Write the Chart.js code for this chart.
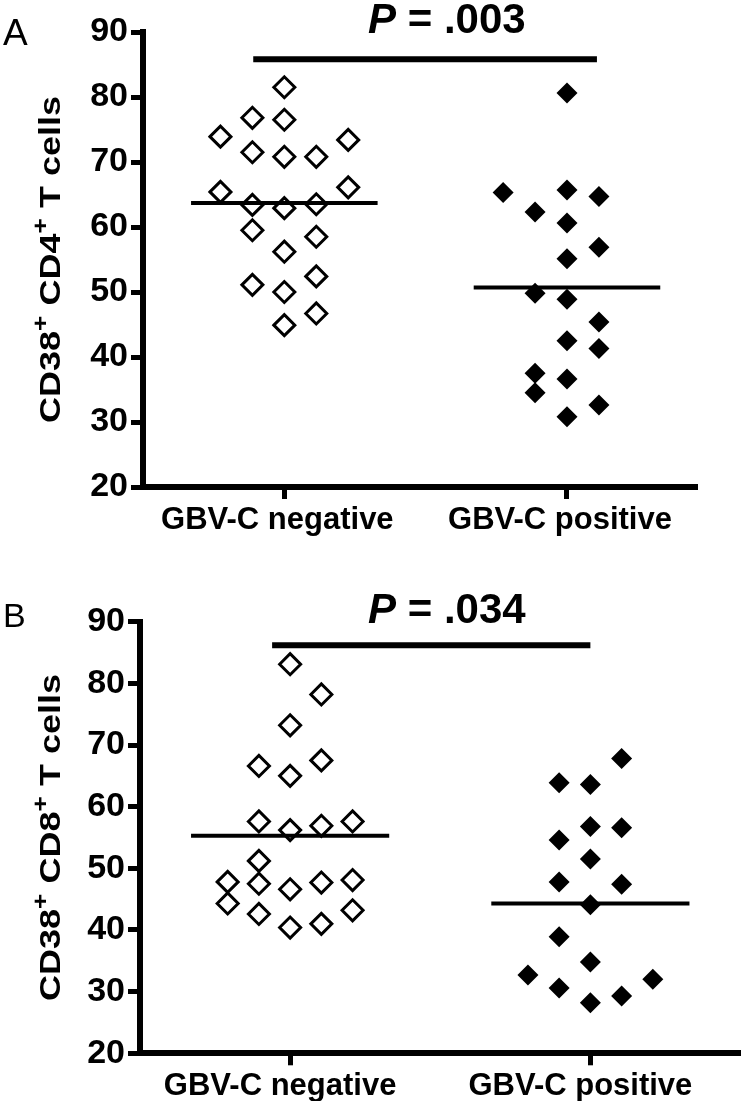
<!DOCTYPE html>
<html>
<head>
<meta charset="utf-8">
<title>CD38+ T cells by GBV-C status</title>
<script src="https://cdn.jsdelivr.net/npm/chart.js@4.4.1/dist/chart.umd.min.js"></script>
<style>
  html, body { margin: 0; padding: 0; background: #fff; }
  #wrap { position: relative; width: 754px; height: 1101px; }
  canvas { position: absolute; left: 0; }
  #chartA { top: 0; }
  #chartB { top: 545px; }
</style>
</head>
<body>
<div id="wrap">
  <canvas id="chartA" width="754" height="545"></canvas>
  <canvas id="chartB" width="754" height="556"></canvas>
</div>
<script>
// groups along the x axis and the y tick values
const categories = ['GBV-C negative', 'GBV-C positive'];
const yTicks = [20, 30, 40, 50, 60, 70, 80, 90];

// Panel A - CD38+ CD4+ T cells
const cd4Negative = [81.5, 76.8, 76.5, 73.9, 73.4, 71.5, 70.8, 70.8, 65.4, 66.1, 63.4, 62.9, 63.5, 59.5, 58.5, 56.2, 52.4, 51.1, 50.0, 46.7, 44.9];
const cd4NegativeLane = [0, -1, 0, -2, 2, -1, 0, 1, -2, 2, -1, 0, 1, -1, 1, 0, 1, -1, 0, 1, 0];
const cd4Positive = [80.6, 65.3, 65.7, 64.7, 62.3, 60.6, 56.9, 55.1, 49.8, 48.9, 45.4, 42.5, 41.3, 37.5, 36.6, 34.5, 32.6, 30.8];
const cd4PositiveLane = [0, -2, 0, 1, -1, 0, 1, 0, -1, 0, 1, 0, 1, -1, 0, -1, 1, 0];
const cd4Means = [63.7, 50.7];

// Panel B - CD38+ CD8+ T cells
const cd8Negative = [83.1, 78.2, 73.2, 66.6, 67.5, 65.0, 57.6, 56.2, 56.9, 57.6, 51.2, 47.8, 47.5, 46.6, 47.7, 48.1, 44.3, 42.6, 43.2, 40.4, 41.0];
const cd8NegativeLane = [0, 1, 0, -1, 1, 0, -1, 0, 1, 2, -1, -2, -1, 0, 1, 2, -2, -1, 2, 0, 1];
const cd8Positive = [67.8, 63.9, 63.6, 56.8, 56.6, 54.6, 51.5, 47.8, 47.4, 44.1, 38.9, 34.8, 32.7, 32.0, 30.6, 29.3, 28.2];
const cd8PositiveLane = [1, -1, 0, 0, 1, -1, 0, -1, 1, 0, -1, 0, -2, 2, -1, 1, 0];
const cd8Means = [55.3, 44.3];

// labels (title parts alternate normal / superscript)
const panelLetters = ['A', 'B'];
const yTitles = [['CD38', '+', ' CD4', '+', ' T cells'], ['CD38', '+', ' CD8', '+', ' T cells']];
const pValues = ['.003', '.034'];

const FONT = "'Liberation Sans', Arial, sans-serif";

function panelText(spec) {
    return {
        id: 'panelText',
        afterDraw(chart) {
            const ctx = chart.ctx;
            const y = chart.scales.y;
            ctx.save();
            ctx.fillStyle = '#000';
            ctx.textBaseline = 'alphabetic';
            ctx.textAlign = 'left';

            // panel letter
            ctx.font = spec.letterSize + 'px ' + FONT;
            ctx.fillText(spec.letter, 3, spec.letterY);

            // P value over the comparison bar
            ctx.font = 'italic bold 42px ' + FONT;
            ctx.fillText('P', 368, spec.pY);
            const pw = ctx.measureText('P').width;
            ctx.font = 'bold 42px ' + FONT;
            ctx.fillText(' = ' + spec.p, 368 + pw, spec.pY);

            // rotated y axis title with superscripts
            ctx.translate(60, (y.top + y.bottom) / 2);
            ctx.rotate(-Math.PI / 2);
            ctx.scale(1.2, 1);
            const fontFor = i => (i % 2 ? 'bold 22px ' : 'bold 30px ') + FONT;
            let total = 0;
            spec.title.forEach((t, i) => { ctx.font = fontFor(i); total += ctx.measureText(t).width; });
            let x = -total / 2;
            spec.title.forEach((t, i) => {
                ctx.font = fontFor(i);
                ctx.fillText(t, x, i % 2 ? -12 : 0);
                x += ctx.measureText(t).width;
            });
            ctx.restore();
        }
    };
}

function makePanel(id, spec) {
    const toPoints = (vals, lanes, group) => vals.map((v, i) => ({ x: group + lanes[i] * spec.lane, y: v }));
    const meanLine = g => [{ x: g - 0.33, y: spec.means[g - 1] }, { x: g + 0.33, y: spec.means[g - 1] }];

    const lineStyle = { type: 'line', borderColor: '#000', pointRadius: 0, fill: false, borderCapStyle: 'butt' };

    new Chart(document.getElementById(id), {
        type: 'scatter',
        data: {
            datasets: [
                { ...lineStyle, data: meanLine(1), borderWidth: 4 },
                { ...lineStyle, data: meanLine(2), borderWidth: 4 },
                { ...lineStyle, data: spec.bar, borderWidth: 6 },
                {
                    data: toPoints(spec.neg, spec.negLane, 1),
                    pointStyle: 'rectRot', pointRadius: 10.5, borderWidth: 3,
                    borderColor: '#000', backgroundColor: 'rgba(0,0,0,0)'
                },
                {
                    data: toPoints(spec.pos, spec.posLane, 2),
                    pointStyle: 'rectRot', pointRadius: 10.5, borderWidth: 0,
                    borderColor: '#000', backgroundColor: '#000'
                }
            ]
        },
        options: {
            responsive: false,
            animation: false,
            devicePixelRatio: 1,
            layout: { padding: { top: spec.padTop, right: spec.padRight, left: 0, bottom: 0 } },
            plugins: { legend: { display: false }, tooltip: { enabled: false } },
            scales: {
                x: {
                    type: 'linear', min: 0.5, max: spec.xMax,
                    afterBuildTicks: s => { s.ticks = categories.map((c, i) => ({ value: i + 1 })); },
                    afterFit: s => { s.height = spec.xHeight; },
                    grid: { drawOnChartArea: false, drawTicks: true, tickLength: 12, tickWidth: 5, color: '#000', tickColor: '#000' },
                    border: { display: true, color: '#000', width: 6 },
                    ticks: {
                        callback: v => categories[v - 1],
                        color: '#000', font: { family: FONT, size: 31, weight: 'bold' },
                        padding: 3, labelOffset: spec.labelOffset, maxRotation: 0, autoSkip: false
                    }
                },
                y: {
                    type: 'linear', min: 20, max: 90,
                    afterBuildTicks: s => { s.ticks = yTicks.map(v => ({ value: v })); },
                    afterFit: s => { s.width = spec.yWidth; },
                    grid: { drawOnChartArea: false, drawTicks: true, tickLength: 12, tickWidth: 5, color: '#000', tickColor: '#000' },
                    border: { display: true, color: '#000', width: 6 },
                    ticks: { color: '#000', font: { family: FONT, size: 34, weight: 'bold' }, padding: 3 }
                }
            }
        },
        plugins: [panelText(spec)]
    });
}

makePanel('chartA', {
    neg: cd4Negative, negLane: cd4NegativeLane, pos: cd4Positive, posLane: cd4PositiveLane, means: cd4Means,
    bar: [{ x: 0.89, y: 85.8 }, { x: 2.106, y: 85.8 }],
    lane: 0.113, xMax: 2.46, padTop: 32, padRight: 57, xHeight: 58, yWidth: 143, labelOffset: -7,
    letter: panelLetters[0], letterSize: 37, letterY: 45, title: yTitles[0], p: pValues[0], pY: 33
});

makePanel('chartB', {
    neg: cd8Negative, negLane: cd8NegativeLane, pos: cd8Positive, posLane: cd8PositiveLane, means: cd8Means,
    bar: [{ x: 0.94, y: 86.2 }, { x: 2.0, y: 86.2 }],
    lane: 0.104, xMax: 2.5, padTop: 76.7, padRight: 2, xHeight: 47.7, yWidth: 140, labelOffset: -10,
    letter: panelLetters[1], letterSize: 34, letterY: 82, title: yTitles[1], p: pValues[1], pY: 78
});
</script>
</body>
</html>
